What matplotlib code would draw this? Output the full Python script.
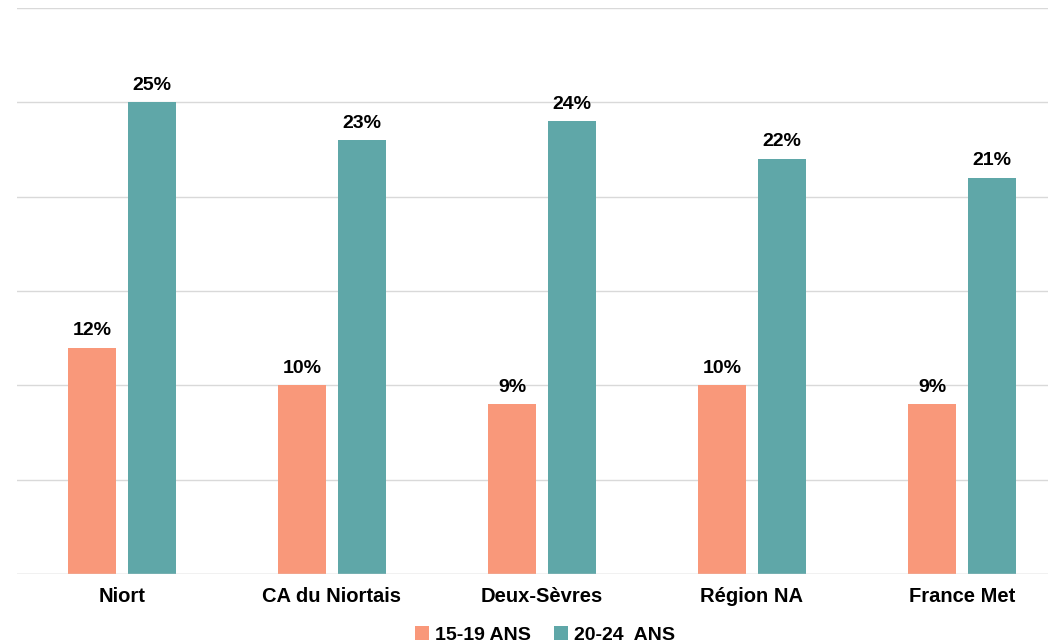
import matplotlib.pyplot as plt
import numpy as np

plt.rcParams["font.family"] = ["Liberation Sans", "DejaVu Sans"]

categories = ["Niort", "CA du Niortais", "Deux-Sèvres", "Région NA", "France Met"]
ages_15_19 = [12, 10, 9, 10, 9]
ages_20_24 = [25, 23, 24, 22, 21]
series_labels = ["15-19 ANS", "20-24  ANS"]
colors = ["#F9987A", "#5FA7A8"]

fig = plt.figure(figsize=(10.48, 6.44), dpi=100)
ax = fig.add_axes([17 / 1048, 70 / 644, 1031 / 1048, 566 / 644])

x = np.arange(len(categories))
w = 0.2286
off = 0.1429
b1 = ax.bar(x - off, ages_15_19, w, color=colors[0], label=series_labels[0], zorder=3)
b2 = ax.bar(x + off, ages_20_24, w, color=colors[1], label=series_labels[1], zorder=3)

for bars, vals in [(b1, ages_15_19), (b2, ages_20_24)]:
    for b, v in zip(bars, vals):
        ax.text(b.get_x() + b.get_width() / 2, v + 0.45, f"{v}%",
                ha="center", va="bottom", fontsize=14, fontweight="bold")

ax.set_xlim(-0.5, -0.5 + 1031 / 210)
ax.set_ylim(0, 30)
ax.set_yticks(np.arange(0, 31, 5))
ax.yaxis.grid(True, color="#D9D9D9", lw=1, zorder=0)
ax.axhline(0, color="#D9D9D9", lw=1, zorder=4)
ax.tick_params(axis="y", length=0, labelleft=False)
ax.tick_params(axis="x", length=0, pad=9)
ax.set_xticks(x)
ax.set_xticklabels(categories, fontsize=14.5, fontweight="bold")
for s in ax.spines.values():
    s.set_visible(False)

leg = fig.legend(loc="center", bbox_to_anchor=(545 / 1048, 9 / 644), ncol=2,
                 frameon=False, handlelength=0.7, handleheight=0.7,
                 handletextpad=0.3, columnspacing=1.2,
                 prop={"size": 14, "weight": "bold"})

fig.savefig("out.png", dpi=100)
